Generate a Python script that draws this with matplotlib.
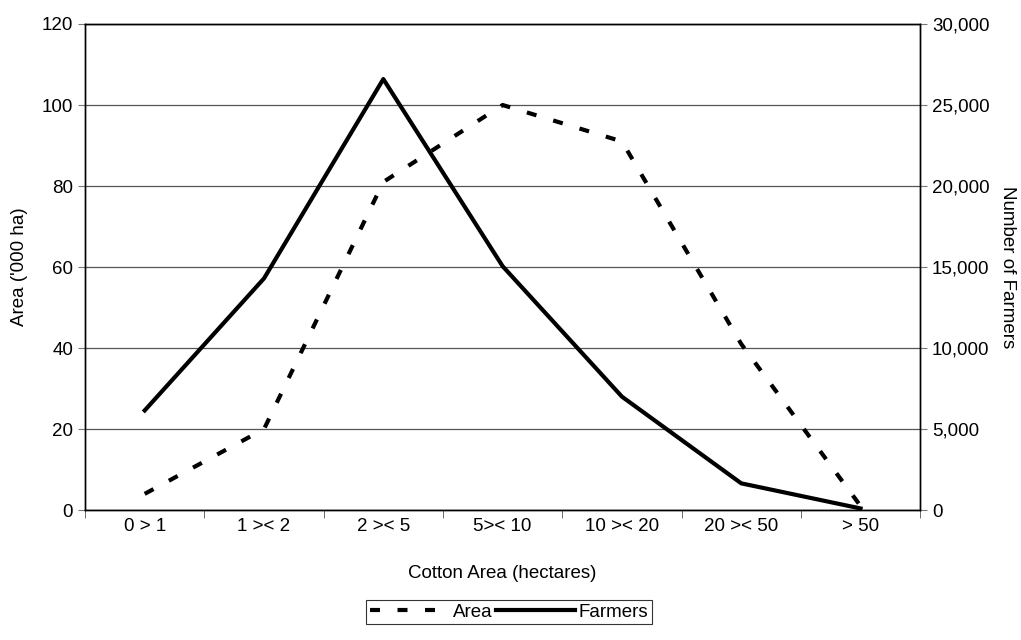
import numpy as np
import matplotlib.pyplot as plt
from matplotlib.ticker import FuncFormatter

plt.rcParams['font.family'] = ['Liberation Sans', 'DejaVu Sans']
plt.rcParams['font.size'] = 13.5

# Data
categories = ['0 > 1', '1 >< 2', '2 >< 5', '5>< 10', '10 >< 20', '20 >< 50', '> 50']
area = [4, 20, 81, 100, 91, 41, 1]                       # '000 ha
farmers = [6150, 14300, 26600, 15050, 7000, 1650, 100]   # number of farmers

x = np.arange(len(categories))

fig = plt.figure(figsize=(10.21, 6.4), dpi=100)
ax = fig.add_axes([0.0833, 0.203, 0.818, 0.7595])
ax2 = ax.twinx()

l1, = ax.plot(x, area, color='black', lw=3, dashes=(2.4, 4.2), label='Area')
l2, = ax2.plot(x, farmers, color='black', lw=3, label='Farmers')

ax.set_xlim(-0.5, len(categories) - 0.5)
ax.set_ylim(0, 120)
ax.set_yticks(np.arange(0, 121, 20))
ax2.set_ylim(0, 30000)
ax2.set_yticks(np.arange(0, 30001, 5000))
ax2.yaxis.set_major_formatter(FuncFormatter(lambda v, p: f'{int(v):,}'))

ax.set_xticks(x)
ax.set_xticklabels(categories)
ax.set_xticks(np.arange(-0.5, len(categories)), minor=True)
ax.tick_params(axis='x', which='major', length=0, pad=6)
ax.tick_params(axis='x', which='minor', length=6, direction='out', color='#555555')
ax.tick_params(axis='y', length=5, direction='out', color='#777777')
ax2.tick_params(axis='y', length=5, direction='out', color='#777777')

ax.yaxis.grid(True, color='#555555', lw=0.9)
ax.set_axisbelow(True)

for a in (ax, ax2):
    for s in a.spines.values():
        s.set_color('black')
        s.set_linewidth(1.0)

ax.set_xlabel('Cotton Area (hectares)', labelpad=21)
ax.set_ylabel("Area ('000 ha)", labelpad=10)
ax2.set_ylabel('Number of Farmers', rotation=-90, labelpad=19)

leg = fig.legend([l1, l2], ['Area', 'Farmers'], loc='center', ncol=2,
                 bbox_to_anchor=(509 / 1021, 1 - 612 / 640), frameon=True,
                 fancybox=False, edgecolor='black', handlelength=4.2,
                 handletextpad=0.2, columnspacing=0.2, borderpad=0.2)
leg.get_frame().set_linewidth(0.8)

fig.savefig('out.png', dpi=100)
